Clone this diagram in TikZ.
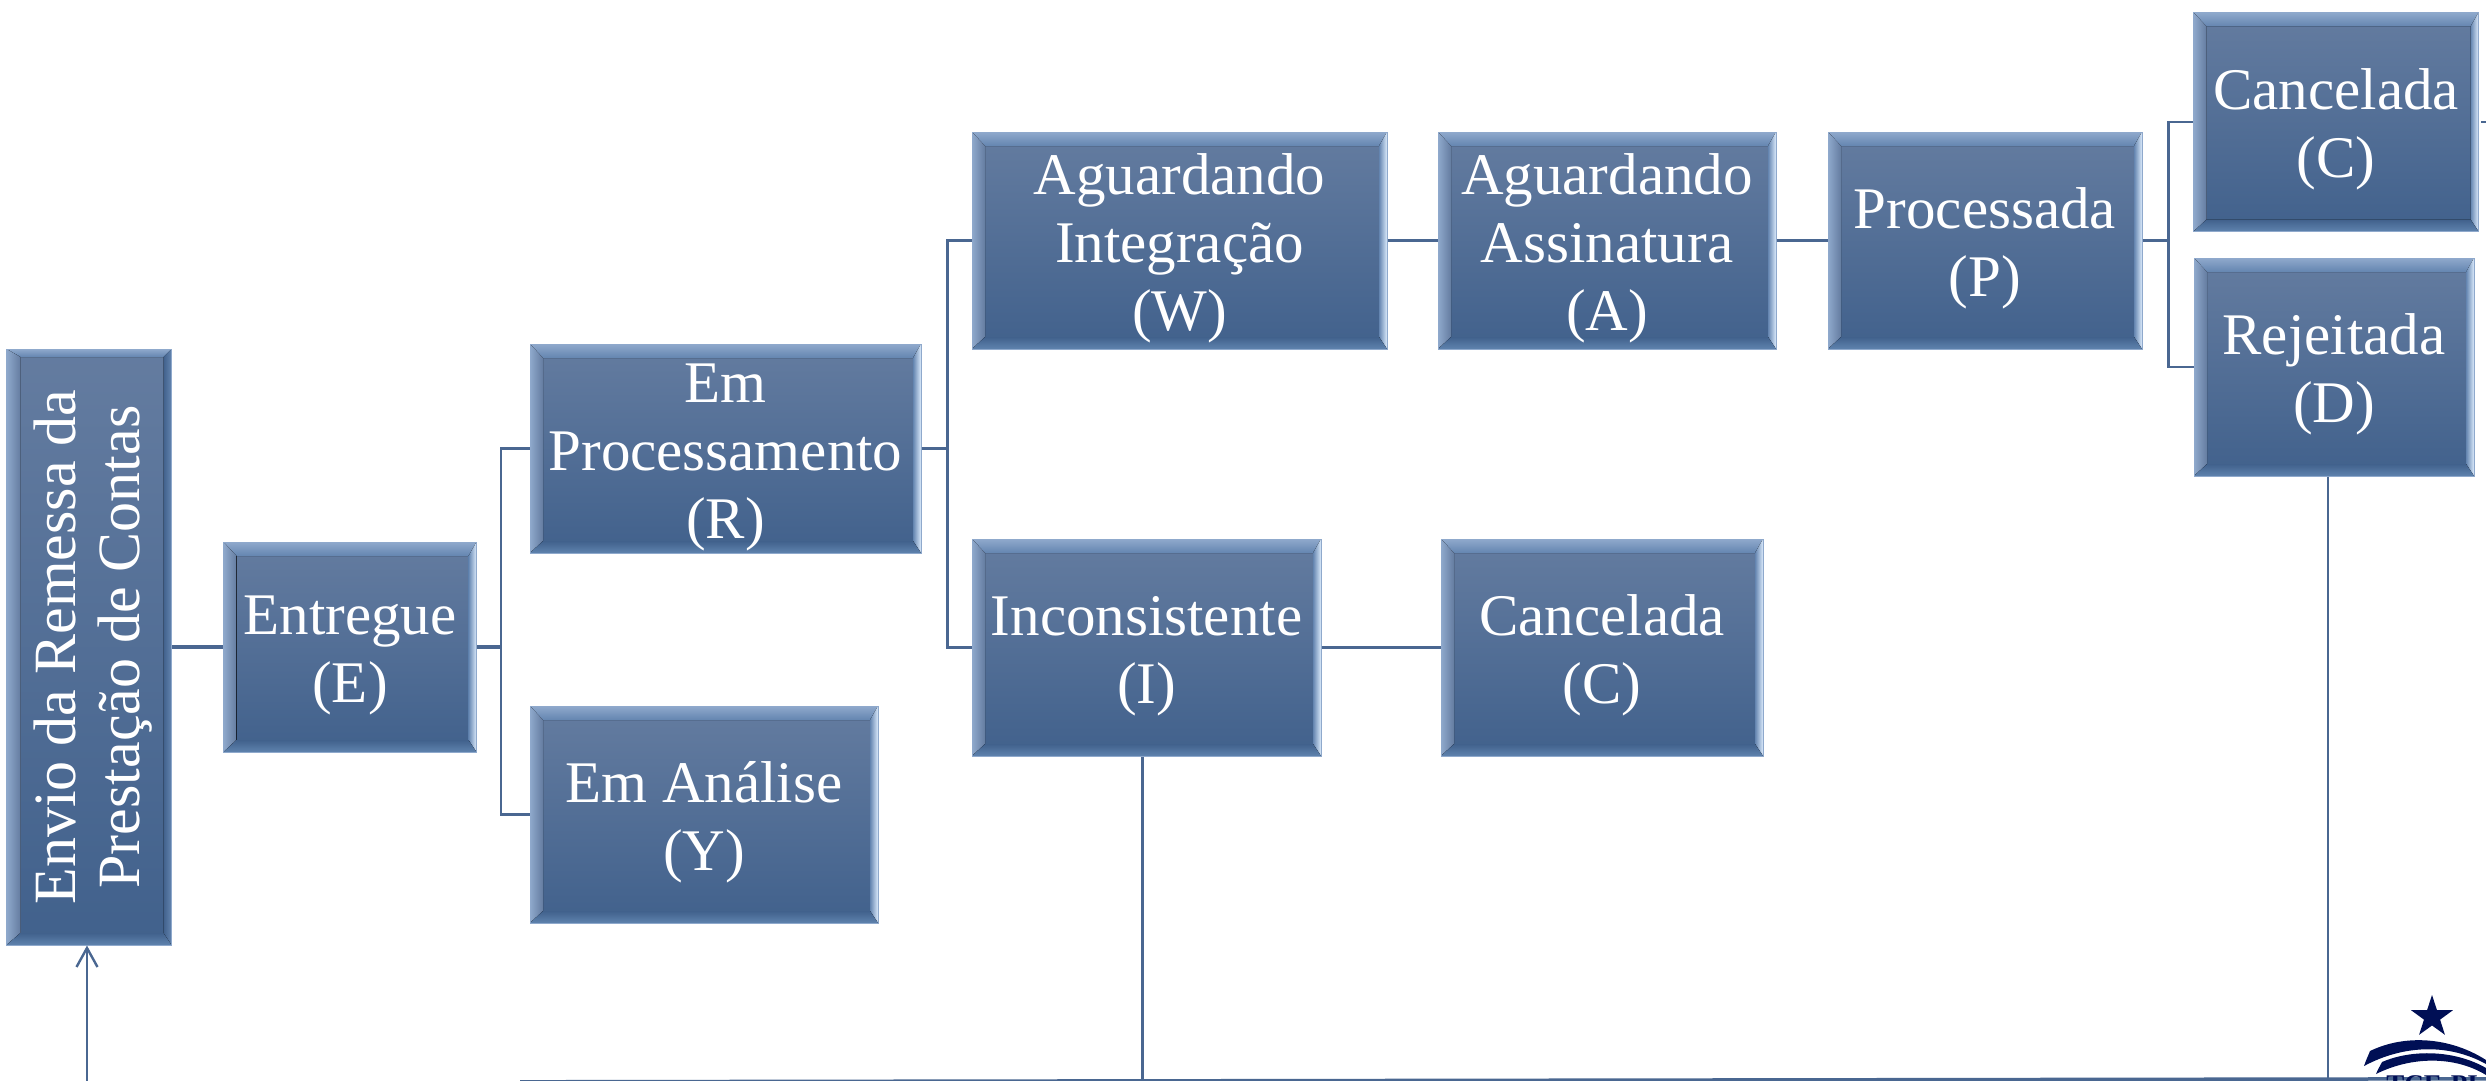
\documentclass[tikz,border=0pt]{standalone}
\usepackage{fontspec}
\setmainfont{Liberation Serif}
\usetikzlibrary{arrows.meta,shapes.geometric}
\definecolor{boxtop}{HTML}{647CA0}
\definecolor{boxbottom}{HTML}{41618C}
\definecolor{boxedge}{HTML}{8FA9CC}
\definecolor{bevelbright}{HTML}{B8D6F8}
\definecolor{bevelmid}{HTML}{6485B0}
\definecolor{bevellow}{HTML}{5F83AE}
\definecolor{linha}{HTML}{4A6791}
\definecolor{logoblue}{HTML}{000F55}
\newcommand{\topo}{\rule{0pt}{56pt}}
\tikzset{
  bevelbox/.style={rectangle, inner sep=0pt, draw=boxedge, line width=1pt, top color=boxtop, bottom color=boxbottom,
    text=white, align=center, font=\fontsize{59}{68}\selectfont,
    path picture={
      \coordinate (nw) at (path picture bounding box.north west);
      \coordinate (ne) at (path picture bounding box.north east);
      \coordinate (sw) at (path picture bounding box.south west);
      \coordinate (se) at (path picture bounding box.south east);
      \fill[top color=boxedge, middle color=bevelbright, bottom color=bevelmid]
        (nw) -- (ne) -- ([xshift=-8pt,yshift=-14pt]ne) -- ([xshift=13pt,yshift=-14pt]nw) -- cycle;
      \fill[left color=boxedge, right color=boxtop]
        (nw) -- ([xshift=13pt,yshift=-14pt]nw) -- ([xshift=13pt,yshift=12pt]sw) -- (sw) -- cycle;
      \fill[left color=bevelmid, right color=white!50!bevelbright]
        (ne) -- ([xshift=-8pt,yshift=-14pt]ne) -- ([xshift=-8pt,yshift=12pt]se) -- (se) -- cycle;
      \fill[top color=boxbottom, bottom color=bevellow]
        (sw) -- ([xshift=13pt,yshift=12pt]sw) -- ([xshift=-8pt,yshift=12pt]se) -- (se) -- cycle;
    }},
  sidebox/.style={bevelbox,
    path picture={
      \coordinate (nw) at (path picture bounding box.north west);
      \coordinate (ne) at (path picture bounding box.north east);
      \coordinate (sw) at (path picture bounding box.south west);
      \coordinate (se) at (path picture bounding box.south east);
      \fill[top color=boxedge, middle color=bevelbright, bottom color=bevelmid]
        (nw) -- (ne) -- ([xshift=-8pt,yshift=-8pt]ne) -- ([xshift=14pt,yshift=-8pt]nw) -- cycle;
      \fill[left color=boxedge, middle color=bevelbright, right color=boxtop]
        (nw) -- ([xshift=14pt,yshift=-8pt]nw) -- ([xshift=14pt,yshift=12pt]sw) -- (sw) -- cycle;
      \fill[left color=boxbottom, right color=bevelmid]
        (ne) -- ([xshift=-8pt,yshift=-8pt]ne) -- ([xshift=-8pt,yshift=12pt]se) -- (se) -- cycle;
      \fill[top color=boxbottom, bottom color=bevellow]
        (sw) -- ([xshift=14pt,yshift=12pt]sw) -- ([xshift=-8pt,yshift=12pt]se) -- (se) -- cycle;
    }},
  ligacao/.style={draw=linha, line width=3.5pt},
  ligacaofina/.style={draw=linha, line width=2.4pt},
}
\begin{document}
\begin{tikzpicture}[x=1pt,y=-1pt]
  \useasboundingbox (0,0) rectangle (2486,1080);
  \clip (0,0) rectangle (2486,1080);
  % boxes
  \node[sidebox, minimum width=165pt, minimum height=596pt] (Envio) at (89,647) {\hspace*{8pt}\rotatebox{90}{\parbox{590pt}{\fontsize{60}{64}\selectfont\centering Envio da Remessa da\\ Prestação de Contas}}};
  \node[bevelbox, minimum width=253pt, minimum height=210pt] (Entregue) at (350,647) {\topo Entregue\\(E)};
  \node[bevelbox, minimum width=391pt, minimum height=209pt] (EmProc) at (725.5,448.5) {\topo Em\\Processamento\\(R)};
  \node[bevelbox, minimum width=348pt, minimum height=217pt] (EmAnalise) at (704,814.5) {\topo Em Análise\\(Y)};
  \node[bevelbox, minimum width=415pt, minimum height=217pt] (AgIntegracao) at (1179.5,240.5) {\topo Aguardando\\Integração\\(W)};
  \node[bevelbox, minimum width=349pt, minimum height=217pt] (Inconsistente) at (1146.5,647.5) {\topo Inconsistente\\(I)};
  \node[bevelbox, minimum width=338pt, minimum height=217pt] (AgAssinatura) at (1607,240.5) {\topo Aguardando\\Assinatura\\(A)};
  \node[bevelbox, minimum width=322pt, minimum height=217pt] (CanceladaI) at (1602,647.5) {\topo Cancelada\\(C)};
  \node[bevelbox, minimum width=314pt, minimum height=217pt] (Processada) at (1985,240.5) {\topo Processada\\(P)};
  \node[bevelbox, minimum width=285pt, minimum height=219pt] (CanceladaP) at (2336,122) {\topo Cancelada\\(C)};
  \node[bevelbox, minimum width=280pt, minimum height=218pt] (Rejeitada) at (2334,367) {\topo Rejeitada\\(D)};
  % junctions and free ends
  \coordinate (jEntregue) at ([xshift=24pt]Entregue.east);
  \coordinate (jEmProc) at ([xshift=26pt]EmProc.east);
  \coordinate (jProcessada) at ([xshift=26pt]Processada.east);
  \coordinate (fundoE) at (520,1081.8);
  \coordinate (fundoD) at (2486,1078.8);
  \coordinate (retorno) at (87,1085);
  \coordinate (saida) at (2486,122);
  % connectors
  \draw[ligacao] (Envio.east) -- (Entregue.west);
  \draw[ligacao] (Entregue.east) -- (jEntregue);
  \draw[ligacaofina] (EmProc.west) -| (jEntregue) |- (EmAnalise.west);
  \draw[ligacao] (EmProc.east) -- (jEmProc);
  \draw[ligacaofina] (AgIntegracao.west) -| (jEmProc) |- (Inconsistente.west);
  \draw[ligacao] (AgIntegracao.east) -- (AgAssinatura.west);
  \draw[ligacao] (Inconsistente.east) -- (CanceladaI.west);
  \draw[ligacao] (AgAssinatura.east) -- (Processada.west);
  \draw[ligacao] (Processada.east) -- (jProcessada);
  \draw[ligacaofina] (CanceladaP.west) -| (jProcessada) |- (Rejeitada.west);
  \draw[ligacaofina] ([xshift=2pt]CanceladaP.east) -- (saida);
  \draw[ligacaofina] ([xshift=-4pt]Inconsistente.south) -- ([xshift=-4pt]Inconsistente.south |- fundoD);
  \draw[ligacaofina] ([xshift=-6pt]Rejeitada.south) -- ([xshift=-6pt]Rejeitada.south |- fundoD);
  \draw[ligacao] (fundoE) -- (fundoD);
  \draw[ligacaofina, -{Straight Barb[length=19pt,width=21pt]}] (retorno) -- (retorno |- Envio.south);
  % logo
  \node[star, star points=5, star point ratio=2.6, fill=logoblue, inner sep=0pt, minimum size=44pt] (estrela) at (2432,1017) {};
  \fill[logoblue] (2364,1066) .. controls (2366,1060) and (2368,1056) .. (2370,1051) .. controls (2405,1034) and (2450,1037) .. (2486,1060) -- (2486,1064) .. controls (2450,1044) and (2405,1044) .. (2364,1066) -- cycle;
  \fill[logoblue] (2376,1074) .. controls (2378,1069) and (2380,1066) .. (2382,1062) .. controls (2412,1049) and (2455,1050) .. (2486,1068) -- (2486,1075) .. controls (2455,1056) and (2412,1056) .. (2376,1074) -- cycle;
  \node[text=logoblue, inner sep=0pt, anchor=base, font=\fontsize{27}{30}\selectfont\bfseries] (sigla) at (2432,1093) {TCE-PI};
\end{tikzpicture}
\end{document}
